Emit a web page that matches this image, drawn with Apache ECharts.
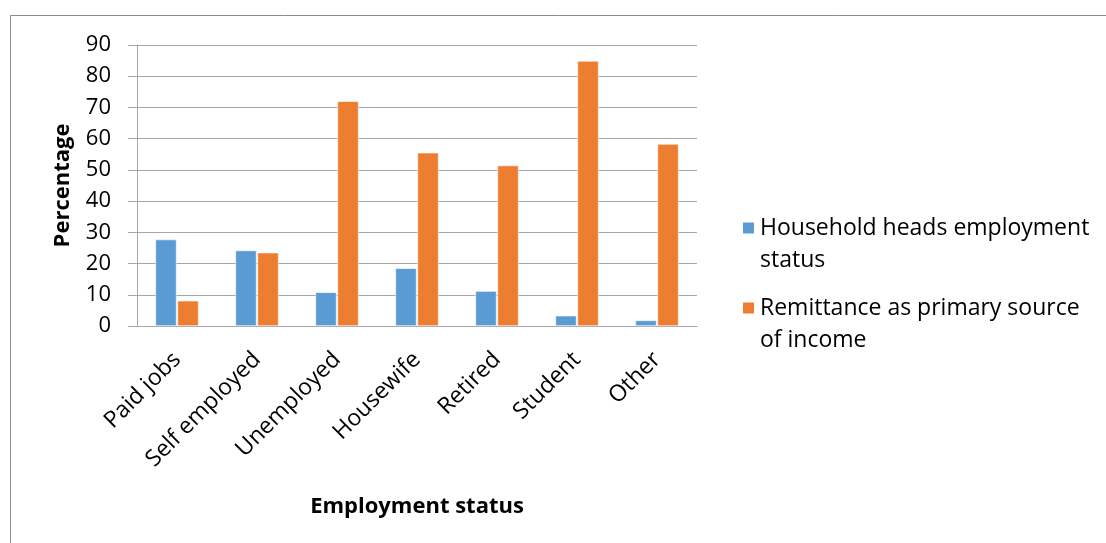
<!DOCTYPE html>
<html>
<head>
<meta charset="utf-8">
<script src="https://cdn.jsdelivr.net/npm/echarts@6/dist/echarts.min.js"></script>
<style>
  html, body { margin: 0; padding: 0; background: #fff; }
  #chart { width: 1106px; height: 543px; }
</style>
</head>
<body>
<div id="chart"></div>
<script>
// Employment status categories and the two percentage series
const categories = ['Paid jobs', 'Self employed', 'Unemployed', 'Housewife', 'Retired', 'Student', 'Other'];
const householdHeads = [27.7, 24.2, 10.8, 18.5, 11.2, 3.3, 1.8];
const remittancePrimary = [8.1, 23.5, 72.0, 55.5, 51.4, 84.9, 58.3];
const seriesNames = ['Household heads employment status', 'Remittance as primary source of income'];
const legendLines = {
  'Household heads employment status': ['Household heads employment', 'status'],
  'Remittance as primary source of income': ['Remittance as primary source', 'of income']
};
const yTicks = { min: 0, max: 90, interval: 10 };

const FONT = '"Open Sans", "Liberation Sans", sans-serif';
const AXIS_GREY = '#a6a6a6';

const chart = echarts.init(document.getElementById('chart'), null, { renderer: 'canvas' });

// Each legend entry wraps onto two lines with the swatch beside the first line:
// an empty leading line keeps the first text line centred on the swatch.
function legendFor(name, top) {
  return {
    data: [name],
    orient: 'vertical',
    left: 741,
    top: top,
    padding: 0,
    itemWidth: 13,
    itemHeight: 13,
    itemGap: 0,
    icon: 'rect',
    selectedMode: false,
    formatter: n => '\n' + legendLines[n].join('\n'),
    textStyle: {
      fontFamily: FONT,
      fontSize: 23,
      lineHeight: 32,
      color: '#000'
    }
  };
}

chart.setOption({
  animation: false,
  backgroundColor: '#fff',
  graphic: [{
    type: 'rect',
    shape: { x: 10.5, y: 15.5, width: 1200, height: 600 },
    style: { fill: 'none', stroke: '#8c8c8c', lineWidth: 1 },
    silent: true
  }],
  grid: { left: 137, right: 409, top: 45, bottom: 217 },
  legend: [legendFor(seriesNames[0], 180), legendFor(seriesNames[1], 260)],
  xAxis: {
    type: 'category',
    data: categories,
    name: 'Employment status',
    nameLocation: 'middle',
    nameGap: 170,
    nameTextStyle: { fontFamily: FONT, fontSize: 22, fontWeight: 'bold', color: '#000' },
    axisLine: { lineStyle: { color: AXIS_GREY, width: 1 } },
    axisTick: { show: false },
    axisLabel: {
      rotate: 45,
      margin: 30,
      fontFamily: FONT,
      fontSize: 23,
      color: '#000',
      interval: 0
    }
  },
  yAxis: {
    type: 'value',
    min: yTicks.min,
    max: yTicks.max,
    interval: yTicks.interval,
    name: 'Percentage',
    nameLocation: 'middle',
    nameGap: 63,
    nameTextStyle: { fontFamily: FONT, fontSize: 22, fontWeight: 'bold', color: '#000' },
    axisLine: { show: true, lineStyle: { color: AXIS_GREY, width: 1 } },
    axisTick: { show: true, length: 9, lineStyle: { color: AXIS_GREY } },
    axisLabel: { margin: 26, fontFamily: FONT, fontSize: 22, color: '#000' },
    splitLine: { lineStyle: { color: AXIS_GREY, width: 1 } }
  },
  series: [
    {
      name: seriesNames[0],
      type: 'bar',
      data: householdHeads,
      barGap: '4%',
      barCategoryGap: '46%',
      itemStyle: { color: '#5B9BD5', borderColor: '#fff', borderWidth: 0.6 }
    },
    {
      name: seriesNames[1],
      type: 'bar',
      data: remittancePrimary,
      itemStyle: { color: '#ED7D31', borderColor: '#fff', borderWidth: 0.6 }
    }
  ]
});
</script>
</body>
</html>
